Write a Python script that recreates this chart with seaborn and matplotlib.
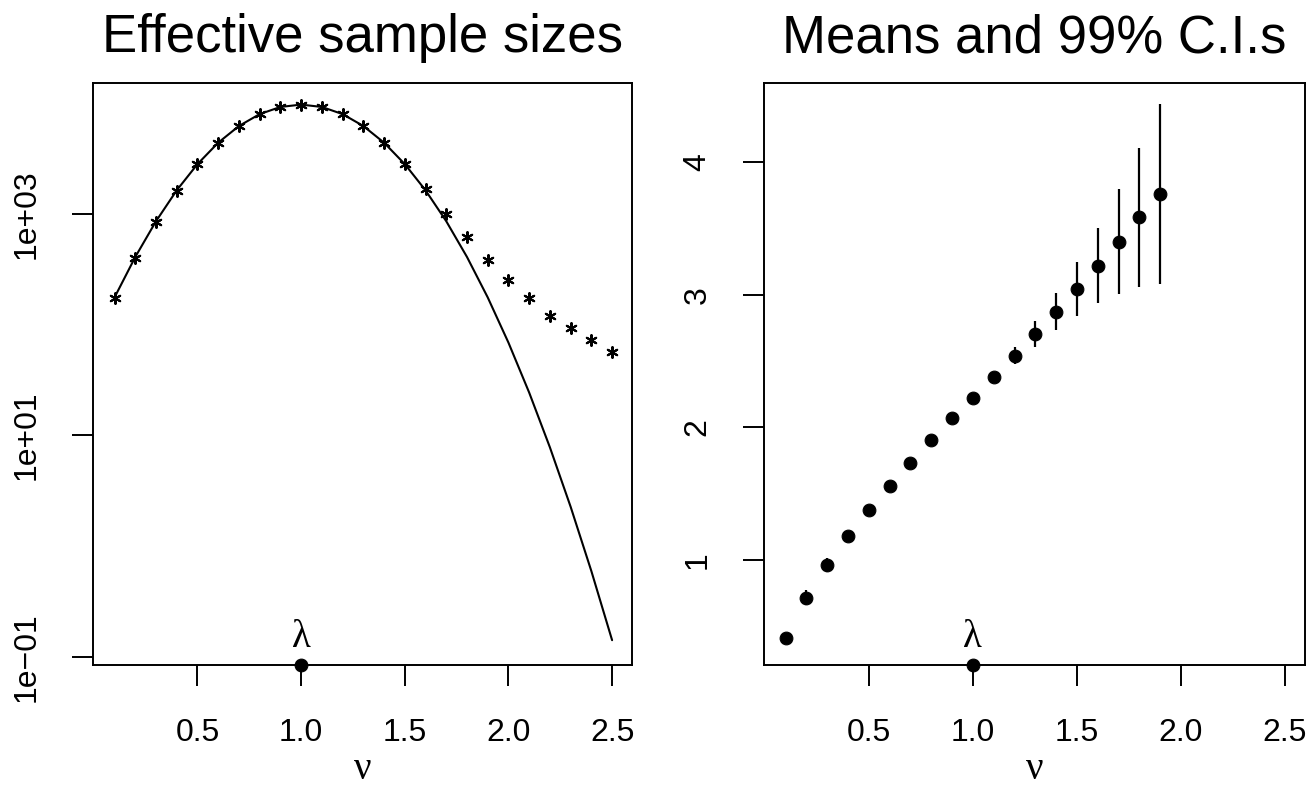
import matplotlib
matplotlib.use("Agg")
import matplotlib.pyplot as plt
import seaborn as sns
from matplotlib.ticker import FixedLocator, NullLocator

# ---------------- data ----------------
nu = [0.1, 0.2, 0.3, 0.4, 0.5, 0.6, 0.7, 0.8, 0.9, 1.0, 1.1, 1.2, 1.3,
      1.4, 1.5, 1.6, 1.7, 1.8, 1.9, 2.0, 2.1, 2.2, 2.3, 2.4, 2.5]
ess_sampled = [174, 401, 839, 1600, 2845, 4375, 6180, 8000, 9260, 9700,
               9260, 8000, 6180, 4375, 2845, 1680, 1007, 615, 386, 255,
               173, 120, 93, 73, 57]
ess_curve = [176, 408, 858, 1633, 2815, 4395, 6217, 7962, 9237, 9705,
             9237, 7962, 6217, 4395, 2815, 1633, 858, 408, 176, 68.7,
             24.3, 7.78, 2.26, 0.593, 0.141]

nu_ci = [0.1, 0.2, 0.3, 0.4, 0.5, 0.6, 0.7, 0.8, 0.9, 1.0, 1.1, 1.2, 1.3,
         1.4, 1.5, 1.6, 1.7, 1.8, 1.9]
ci_mean = [0.408, 0.715, 0.962, 1.179, 1.376, 1.557, 1.733, 1.901, 2.067,
           2.22, 2.381, 2.54, 2.705, 2.873, 3.043, 3.22, 3.398, 3.583, 3.76]
ci_lower = [0.38, 0.66, 0.91, 1.14, 1.35, 1.54, 1.72, 1.885, 2.05,
            2.19, 2.34, 2.477, 2.608, 2.73, 2.841, 2.936, 3.008, 3.058, 3.078]
ci_upper = [0.44, 0.77, 1.015, 1.22, 1.40, 1.575, 1.748, 1.918, 2.085,
            2.25, 2.42, 2.603, 2.805, 3.015, 3.247, 3.505, 3.795, 4.106, 4.442]

lambda_value = 1.0
x_ticks = [0.5, 1.0, 1.5, 2.0, 2.5]
x_tick_labels = ["0.5", "1.0", "1.5", "2.0", "2.5"]
ess_ticks = [0.1, 10, 1000]
ess_tick_labels = ["1e\u221201", "1e+01", "1e+03"]
mean_ticks = [1, 2, 3, 4]
mean_tick_labels = ["1", "2", "3", "4"]
titles = ["Effective sample sizes", "Means and 99% C.I.s"]
x_label = "\u03bd"
lambda_label = "\u03bb"

# ---------------- style ----------------
sns.set_theme(style="white")
plt.rcParams['font.family'] = ['Liberation Sans', 'DejaVu Sans']
plt.rcParams['axes.edgecolor'] = 'black'
plt.rcParams['axes.linewidth'] = 1.4

W, H = 1312, 787
fig = plt.figure(figsize=(W / 100, H / 100), dpi=100)
fig.patch.set_facecolor('white')

ax_top, ax_bot = 83, 665
ax1 = fig.add_axes([93 / W, 1 - ax_bot / H, (632 - 93) / W, (ax_bot - ax_top) / H])
ax2 = fig.add_axes([764 / W, 1 - ax_bot / H, (1305 - 764) / W, (ax_bot - ax_top) / H])

xlim = (-0.004, 2.596)
ess_ylim = (10 ** -1.075, 10 ** 4.182)
mean_ylim = (0.206, 4.597)

serif = ['Liberation Serif', 'DejaVu Serif']

# ---------------- left panel ----------------
ax1.set_yscale('log')
sns.lineplot(x=nu, y=ess_curve, ax=ax1, color='black', linewidth=1.5)
sns.scatterplot(x=nu, y=ess_sampled, ax=ax1, marker=(6, 2, 0), s=60,
                color='black', linewidth=1.5, zorder=3)
ax1.set_xlim(*xlim)
ax1.set_ylim(*ess_ylim)
ax1.yaxis.set_major_locator(FixedLocator(ess_ticks))
ax1.yaxis.set_minor_locator(NullLocator())
ax1.set_yticklabels(ess_tick_labels)
sns.scatterplot(x=[lambda_value], y=[ess_ylim[0]], ax=ax1, s=85,
                color='black', edgecolor='black', clip_on=False, zorder=6)

# ---------------- right panel ----------------
ax2.vlines(nu_ci, ci_lower, ci_upper, color='black', linewidth=1.6)
sns.scatterplot(x=nu_ci, y=ci_mean, ax=ax2, s=85, color='black',
                edgecolor='black', zorder=3)
ax2.set_xlim(*xlim)
ax2.set_ylim(*mean_ylim)
ax2.yaxis.set_major_locator(FixedLocator(mean_ticks))
ax2.set_yticklabels(mean_tick_labels)
sns.scatterplot(x=[lambda_value], y=[mean_ylim[0]], ax=ax2, s=85,
                color='black', edgecolor='black', clip_on=False, zorder=6)

for ax, title in zip([ax1, ax2], titles):
    ax.set_facecolor('white')
    ax.xaxis.set_major_locator(FixedLocator(x_ticks))
    ax.set_xticklabels(x_tick_labels)
    for sp in ax.spines.values():
        sp.set_visible(True)
        sp.set_color('black')
        sp.set_linewidth(1.4)
    ax.tick_params(axis='both', which='major', direction='out', length=15,
                   width=1.4, color='black', labelsize=23, labelcolor='black',
                   left=True, bottom=True)
    ax.tick_params(axis='x', pad=23)
    ax.tick_params(axis='y', pad=22, labelrotation=90)
    for lab in ax.get_yticklabels():
        lab.set_va('center')
    ax.set_title(title, fontsize=38, pad=22, color='black')
    ax.set_xlabel(x_label, fontsize=28, family=serif, labelpad=2, color='black')
    ax.set_ylabel('')
    ax.annotate(lambda_label, xy=(lambda_value, 0), xycoords=('data', 'axes fraction'),
                xytext=(0, 13), textcoords='offset points', ha='center',
                va='baseline', fontsize=28, family=serif, color='black')

fig.savefig('out.png', dpi=100, facecolor='white')
